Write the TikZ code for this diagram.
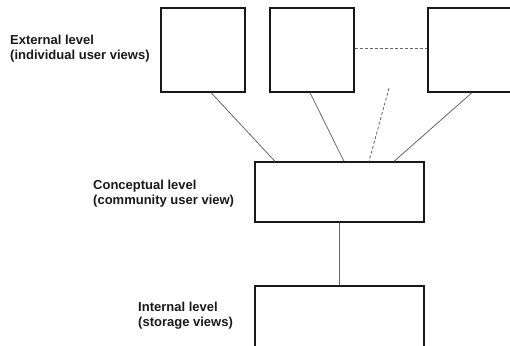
\documentclass[tikz,border=0pt]{standalone}
\usepackage{fontspec}
\setmainfont{Liberation Sans}
\usetikzlibrary{positioning, calc}

\begin{document}
\begin{tikzpicture}[
    x=1pt, y=-1pt,
    % boxes of the three levels
    viewbox/.style={
        draw=black!90,
        line width=1.3pt,
        rectangle,
        inner sep=0pt
    },
    levellabel/.style={
        anchor=north west,
        align=left,
        inner sep=0pt,
        font=\fontsize{13}{15}\selectfont\bfseries,
        text=black!90
    },
    link/.style={draw=black!60, line width=0.8pt},
    dashlink/.style={link, dash pattern=on 3pt off 2pt}
]
\useasboundingbox (0,0) rectangle (510,345);

% External level
\node[viewbox, minimum width=84pt, minimum height=84pt] (ext1) at (203,50) {};
\node[viewbox, minimum width=84pt, minimum height=84pt] (ext2) at (312,50) {};
\node[viewbox, minimum width=84pt, minimum height=84pt] (ext3) at (470,50) {};
\node[levellabel] (extlabel) at (10,35) {External level\\(individual user views)};

% Conceptual and internal level
\node[viewbox, minimum width=169pt, minimum height=60pt] (concept) at (339.5,192) {};
\node[viewbox, minimum width=169pt, minimum height=66pt] (internal) at (339.5,319) {};
\node[levellabel] (conceptlabel) at (93,180) {Conceptual level\\(community user view)};
\node[levellabel] (internallabel) at (138,302) {Internal level\\(storage views)};

\coordinate (moreviews) at (389,88);

% Connectors
\draw[link] ($(ext1.south)+(8,0)$) -- ($(concept.north)+(-64.5,0)$);
\draw[link] ($(ext2.south)+(-2,0)$) -- ($(concept.north)+(4.5,0)$);
\draw[link] ($(ext3.south)+(2,0)$) -- ($(concept.north)+(54.5,0)$);
\draw[dashlink] (moreviews) -- ($(concept.north)+(29.5,0)$);
\draw[dashlink] ($(ext2.east)+(0,-2)$) -- ($(ext3.west)+(0,-2)$);
\draw[link] (concept.south) -- (internal.north);

\end{tikzpicture}
\end{document}
